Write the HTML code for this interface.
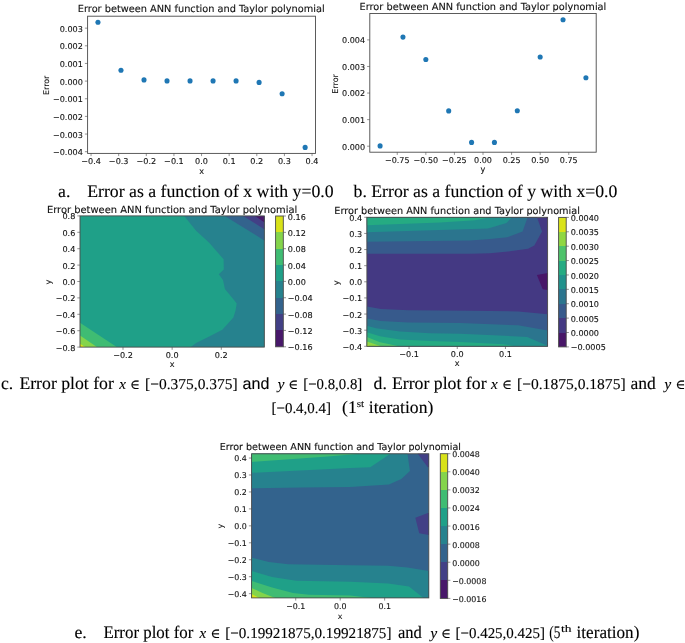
<!DOCTYPE html>
<html><head><meta charset="utf-8"><title>Error plots</title>
<style>
html,body{margin:0;padding:0;background:#fff;}
#page{position:relative;width:685px;height:643px;overflow:hidden;background:#fff;}
svg{position:absolute;left:0;top:0;}
svg text{font-family:'DejaVu Sans', 'Liberation Sans', sans-serif;fill:#111;stroke:#111;stroke-width:0.12px;}
svg text.cap{fill:#000;stroke:#000;stroke-width:0.12px;}
svg{text-rendering:geometricPrecision;}
</style></head><body><div id="page">
<svg width="685" height="643" viewBox="0 0 685 643">
<rect x="87.6" y="16.2" width="227.9" height="137.2" fill="none" stroke="#4a4a4a" stroke-width="0.9"/>
<line x1="91.05" y1="153.4" x2="91.05" y2="156.1" stroke="#4a4a4a" stroke-width="0.6"/>
<text x="91.05" y="164.1" font-size="8.1" text-anchor="middle">−0.4</text>
<line x1="118.68" y1="153.4" x2="118.68" y2="156.1" stroke="#4a4a4a" stroke-width="0.6"/>
<text x="118.68" y="164.1" font-size="8.1" text-anchor="middle">−0.3</text>
<line x1="146.3" y1="153.4" x2="146.3" y2="156.1" stroke="#4a4a4a" stroke-width="0.6"/>
<text x="146.3" y="164.1" font-size="8.1" text-anchor="middle">−0.2</text>
<line x1="173.93" y1="153.4" x2="173.93" y2="156.1" stroke="#4a4a4a" stroke-width="0.6"/>
<text x="173.93" y="164.1" font-size="8.1" text-anchor="middle">−0.1</text>
<line x1="201.55" y1="153.4" x2="201.55" y2="156.1" stroke="#4a4a4a" stroke-width="0.6"/>
<text x="201.55" y="164.1" font-size="8.1" text-anchor="middle">0.0</text>
<line x1="229.17" y1="153.4" x2="229.17" y2="156.1" stroke="#4a4a4a" stroke-width="0.6"/>
<text x="229.17" y="164.1" font-size="8.1" text-anchor="middle">0.1</text>
<line x1="256.8" y1="153.4" x2="256.8" y2="156.1" stroke="#4a4a4a" stroke-width="0.6"/>
<text x="256.8" y="164.1" font-size="8.1" text-anchor="middle">0.2</text>
<line x1="284.42" y1="153.4" x2="284.42" y2="156.1" stroke="#4a4a4a" stroke-width="0.6"/>
<text x="284.42" y="164.1" font-size="8.1" text-anchor="middle">0.3</text>
<line x1="312.05" y1="153.4" x2="312.05" y2="156.1" stroke="#4a4a4a" stroke-width="0.6"/>
<text x="312.05" y="164.1" font-size="8.1" text-anchor="middle">0.4</text>
<line x1="84.9" y1="151.7" x2="87.6" y2="151.7" stroke="#4a4a4a" stroke-width="0.6"/>
<text x="82.9" y="155.15" font-size="8.1" text-anchor="end">−0.004</text>
<line x1="84.9" y1="134.05" x2="87.6" y2="134.05" stroke="#4a4a4a" stroke-width="0.6"/>
<text x="82.9" y="137.5" font-size="8.1" text-anchor="end">−0.003</text>
<line x1="84.9" y1="116.4" x2="87.6" y2="116.4" stroke="#4a4a4a" stroke-width="0.6"/>
<text x="82.9" y="119.85" font-size="8.1" text-anchor="end">−0.002</text>
<line x1="84.9" y1="98.75" x2="87.6" y2="98.75" stroke="#4a4a4a" stroke-width="0.6"/>
<text x="82.9" y="102.2" font-size="8.1" text-anchor="end">−0.001</text>
<line x1="84.9" y1="81.1" x2="87.6" y2="81.1" stroke="#4a4a4a" stroke-width="0.6"/>
<text x="82.9" y="84.55" font-size="8.1" text-anchor="end">0.000</text>
<line x1="84.9" y1="63.45" x2="87.6" y2="63.45" stroke="#4a4a4a" stroke-width="0.6"/>
<text x="82.9" y="66.9" font-size="8.1" text-anchor="end">0.001</text>
<line x1="84.9" y1="45.8" x2="87.6" y2="45.8" stroke="#4a4a4a" stroke-width="0.6"/>
<text x="82.9" y="49.25" font-size="8.1" text-anchor="end">0.002</text>
<line x1="84.9" y1="28.15" x2="87.6" y2="28.15" stroke="#4a4a4a" stroke-width="0.6"/>
<text x="82.9" y="31.6" font-size="8.1" text-anchor="end">0.003</text>
<text x="77.84" y="11.8" font-size="9.77" textLength="246.88" lengthAdjust="spacingAndGlyphs">Error between ANN function and Taylor polynomial</text>
<text x="201.55" y="174" font-size="8.1" text-anchor="middle">x</text>
<text x="48.6" y="85.3" font-size="7.9" text-anchor="middle" transform="rotate(-90 48.6 85.3)">Error</text>
<circle cx="97.96" cy="22.3" r="2.55" fill="#1f77b4"/>
<circle cx="120.98" cy="70.2" r="2.55" fill="#1f77b4"/>
<circle cx="144" cy="79.9" r="2.55" fill="#1f77b4"/>
<circle cx="167.02" cy="80.9" r="2.55" fill="#1f77b4"/>
<circle cx="190.04" cy="80.9" r="2.55" fill="#1f77b4"/>
<circle cx="213.06" cy="80.9" r="2.55" fill="#1f77b4"/>
<circle cx="236.08" cy="80.9" r="2.55" fill="#1f77b4"/>
<circle cx="259.1" cy="82.4" r="2.55" fill="#1f77b4"/>
<circle cx="282.12" cy="93.8" r="2.55" fill="#1f77b4"/>
<circle cx="305.14" cy="147.4" r="2.55" fill="#1f77b4"/>
<rect x="369.8" y="13.5" width="226.4" height="138.7" fill="none" stroke="#4a4a4a" stroke-width="0.9"/>
<line x1="397.24" y1="152.2" x2="397.24" y2="154.9" stroke="#4a4a4a" stroke-width="0.6"/>
<text x="397.24" y="163.47" font-size="8.05" text-anchor="middle">−0.75</text>
<line x1="425.83" y1="152.2" x2="425.83" y2="154.9" stroke="#4a4a4a" stroke-width="0.6"/>
<text x="425.83" y="163.47" font-size="8.05" text-anchor="middle">−0.50</text>
<line x1="454.41" y1="152.2" x2="454.41" y2="154.9" stroke="#4a4a4a" stroke-width="0.6"/>
<text x="454.41" y="163.47" font-size="8.05" text-anchor="middle">−0.25</text>
<line x1="483" y1="152.2" x2="483" y2="154.9" stroke="#4a4a4a" stroke-width="0.6"/>
<text x="483" y="163.47" font-size="8.05" text-anchor="middle">0.00</text>
<line x1="511.59" y1="152.2" x2="511.59" y2="154.9" stroke="#4a4a4a" stroke-width="0.6"/>
<text x="511.59" y="163.47" font-size="8.05" text-anchor="middle">0.25</text>
<line x1="540.17" y1="152.2" x2="540.17" y2="154.9" stroke="#4a4a4a" stroke-width="0.6"/>
<text x="540.17" y="163.47" font-size="8.05" text-anchor="middle">0.50</text>
<line x1="568.76" y1="152.2" x2="568.76" y2="154.9" stroke="#4a4a4a" stroke-width="0.6"/>
<text x="568.76" y="163.47" font-size="8.05" text-anchor="middle">0.75</text>
<line x1="367.1" y1="146.2" x2="369.8" y2="146.2" stroke="#4a4a4a" stroke-width="0.6"/>
<text x="365.1" y="149.63" font-size="8.05" text-anchor="end">0.000</text>
<line x1="367.1" y1="119.62" x2="369.8" y2="119.62" stroke="#4a4a4a" stroke-width="0.6"/>
<text x="365.1" y="123.06" font-size="8.05" text-anchor="end">0.001</text>
<line x1="367.1" y1="93.05" x2="369.8" y2="93.05" stroke="#4a4a4a" stroke-width="0.6"/>
<text x="365.1" y="96.48" font-size="8.05" text-anchor="end">0.002</text>
<line x1="367.1" y1="66.47" x2="369.8" y2="66.47" stroke="#4a4a4a" stroke-width="0.6"/>
<text x="365.1" y="69.91" font-size="8.05" text-anchor="end">0.003</text>
<line x1="367.1" y1="39.9" x2="369.8" y2="39.9" stroke="#4a4a4a" stroke-width="0.6"/>
<text x="365.1" y="43.33" font-size="8.05" text-anchor="end">0.004</text>
<text x="359.54" y="9.5" font-size="9.76" textLength="246.77" lengthAdjust="spacingAndGlyphs">Error between ANN function and Taylor polynomial</text>
<text x="483" y="172.4" font-size="8.05" text-anchor="middle">y</text>
<text x="338.5" y="83.9" font-size="8.05" text-anchor="middle" transform="rotate(-90 338.5 83.9)">Error</text>
<circle cx="380.09" cy="145.9" r="2.55" fill="#1f77b4"/>
<circle cx="402.96" cy="37.1" r="2.55" fill="#1f77b4"/>
<circle cx="425.83" cy="59.5" r="2.55" fill="#1f77b4"/>
<circle cx="448.7" cy="110.9" r="2.55" fill="#1f77b4"/>
<circle cx="471.57" cy="142.4" r="2.55" fill="#1f77b4"/>
<circle cx="494.43" cy="142.4" r="2.55" fill="#1f77b4"/>
<circle cx="517.3" cy="110.7" r="2.55" fill="#1f77b4"/>
<circle cx="540.17" cy="57" r="2.55" fill="#1f77b4"/>
<circle cx="563.04" cy="19.8" r="2.55" fill="#1f77b4"/>
<circle cx="585.91" cy="77.7" r="2.55" fill="#1f77b4"/>
<rect x="80" y="215.9" width="184.3" height="131.2" fill="#1fa088"/>
<polygon points="184.2,215.9 196.1,230.7 209.2,242.7 216.8,251.4 223.6,259.3 223.8,269.5 218.8,274.3 223,280 224.9,289.1 233.2,299 236.7,303.4 235.6,310.2 233.4,317.5 222.3,329.8 209.2,336.4 196.1,342.9 190.7,347.1 264.3,347.1 264.3,215.9" fill="#26828e"/>
<polygon points="224.8,215.9 264.3,240.4 264.3,215.9" fill="#33638d"/>
<polygon points="243.3,215.9 264.3,229.2 264.3,215.9" fill="#424086"/>
<polygon points="255,215.9 264.3,222.2 264.3,215.9" fill="#48186a"/>
<polygon points="80,322.7 116.7,347.1 80,347.1" fill="#3fbc73"/>
<polygon points="80,335.5 96.9,347.1 80,347.1" fill="#84d44b"/>
<polygon points="80,343.7 85.2,347.1 80,347.1" fill="#d8e219"/>
<rect x="80" y="215.9" width="184.3" height="131.2" fill="none" stroke="#4a4a4a" stroke-width="0.9"/>
<line x1="123" y1="347.1" x2="123" y2="349.8" stroke="#4a4a4a" stroke-width="0.6"/>
<text x="123" y="358.2" font-size="8.1" text-anchor="middle">−0.2</text>
<line x1="172.15" y1="347.1" x2="172.15" y2="349.8" stroke="#4a4a4a" stroke-width="0.6"/>
<text x="172.15" y="358.2" font-size="8.1" text-anchor="middle">0.0</text>
<line x1="221.3" y1="347.1" x2="221.3" y2="349.8" stroke="#4a4a4a" stroke-width="0.6"/>
<text x="221.3" y="358.2" font-size="8.1" text-anchor="middle">0.2</text>
<line x1="77.3" y1="347.1" x2="80" y2="347.1" stroke="#4a4a4a" stroke-width="0.6"/>
<text x="75.3" y="350.55" font-size="8.1" text-anchor="end">−0.8</text>
<line x1="77.3" y1="330.7" x2="80" y2="330.7" stroke="#4a4a4a" stroke-width="0.6"/>
<text x="75.3" y="334.15" font-size="8.1" text-anchor="end">−0.6</text>
<line x1="77.3" y1="314.3" x2="80" y2="314.3" stroke="#4a4a4a" stroke-width="0.6"/>
<text x="75.3" y="317.75" font-size="8.1" text-anchor="end">−0.4</text>
<line x1="77.3" y1="297.9" x2="80" y2="297.9" stroke="#4a4a4a" stroke-width="0.6"/>
<text x="75.3" y="301.35" font-size="8.1" text-anchor="end">−0.2</text>
<line x1="77.3" y1="281.5" x2="80" y2="281.5" stroke="#4a4a4a" stroke-width="0.6"/>
<text x="75.3" y="284.95" font-size="8.1" text-anchor="end">0.0</text>
<line x1="77.3" y1="265.1" x2="80" y2="265.1" stroke="#4a4a4a" stroke-width="0.6"/>
<text x="75.3" y="268.55" font-size="8.1" text-anchor="end">0.2</text>
<line x1="77.3" y1="248.7" x2="80" y2="248.7" stroke="#4a4a4a" stroke-width="0.6"/>
<text x="75.3" y="252.15" font-size="8.1" text-anchor="end">0.4</text>
<line x1="77.3" y1="232.3" x2="80" y2="232.3" stroke="#4a4a4a" stroke-width="0.6"/>
<text x="75.3" y="235.75" font-size="8.1" text-anchor="end">0.6</text>
<line x1="77.3" y1="215.9" x2="80" y2="215.9" stroke="#4a4a4a" stroke-width="0.6"/>
<text x="75.3" y="219.35" font-size="8.1" text-anchor="end">0.8</text>
<text x="46.93" y="212.7" font-size="9.9" textLength="250.3" lengthAdjust="spacingAndGlyphs">Error between ANN function and Taylor polynomial</text>
<text x="172.15" y="367" font-size="8.1" text-anchor="middle">x</text>
<text x="50.6" y="282.2" font-size="8.1" text-anchor="middle" transform="rotate(-90 50.6 282.2)">y</text>
<defs><linearGradient id="cb1" x1="0" y1="0" x2="0" y2="1"><stop offset="0.00000" stop-color="#d8e219"/><stop offset="0.12500" stop-color="#d8e219"/><stop offset="0.12500" stop-color="#84d44b"/><stop offset="0.25000" stop-color="#84d44b"/><stop offset="0.25000" stop-color="#3fbc73"/><stop offset="0.37500" stop-color="#3fbc73"/><stop offset="0.37500" stop-color="#1fa088"/><stop offset="0.50000" stop-color="#1fa088"/><stop offset="0.50000" stop-color="#26828e"/><stop offset="0.62500" stop-color="#26828e"/><stop offset="0.62500" stop-color="#33638d"/><stop offset="0.75000" stop-color="#33638d"/><stop offset="0.75000" stop-color="#424086"/><stop offset="0.87500" stop-color="#424086"/><stop offset="0.87500" stop-color="#48186a"/><stop offset="1.00000" stop-color="#48186a"/></linearGradient></defs>
<rect x="275.6" y="216" width="7.7" height="130.8" fill="url(#cb1)"/>
<rect x="275.6" y="216" width="7.7" height="130.8" fill="none" stroke="#4a4a4a" stroke-width="0.9"/>
<line x1="283.3" y1="346.8" x2="286" y2="346.8" stroke="#4a4a4a" stroke-width="0.6"/>
<text x="287.8" y="350.35" font-size="8.1" text-anchor="start">−0.16</text>
<line x1="283.3" y1="330.45" x2="286" y2="330.45" stroke="#4a4a4a" stroke-width="0.6"/>
<text x="287.8" y="334" font-size="8.1" text-anchor="start">−0.12</text>
<line x1="283.3" y1="314.1" x2="286" y2="314.1" stroke="#4a4a4a" stroke-width="0.6"/>
<text x="287.8" y="317.65" font-size="8.1" text-anchor="start">−0.08</text>
<line x1="283.3" y1="297.75" x2="286" y2="297.75" stroke="#4a4a4a" stroke-width="0.6"/>
<text x="287.8" y="301.3" font-size="8.1" text-anchor="start">−0.04</text>
<line x1="283.3" y1="281.4" x2="286" y2="281.4" stroke="#4a4a4a" stroke-width="0.6"/>
<text x="287.8" y="284.95" font-size="8.1" text-anchor="start">0.00</text>
<line x1="283.3" y1="265.05" x2="286" y2="265.05" stroke="#4a4a4a" stroke-width="0.6"/>
<text x="287.8" y="268.6" font-size="8.1" text-anchor="start">0.04</text>
<line x1="283.3" y1="248.7" x2="286" y2="248.7" stroke="#4a4a4a" stroke-width="0.6"/>
<text x="287.8" y="252.25" font-size="8.1" text-anchor="start">0.08</text>
<line x1="283.3" y1="232.35" x2="286" y2="232.35" stroke="#4a4a4a" stroke-width="0.6"/>
<text x="287.8" y="235.9" font-size="8.1" text-anchor="start">0.12</text>
<line x1="283.3" y1="216" x2="286" y2="216" stroke="#4a4a4a" stroke-width="0.6"/>
<text x="287.8" y="219.55" font-size="8.1" text-anchor="start">0.16</text>
<rect x="366.9" y="217.3" width="180.7" height="129" fill="#443983"/>
<polygon points="366.9,217.3 366.9,253.7 470,253.7 490,253.2 508.1,251.4 528,248.7 534.3,245.5 542,231.5 537,217.3" fill="#375a8c"/>
<polygon points="366.9,217.3 366.9,241.8 470,240.5 490,239.1 507.2,237.3 522.6,231.5 527.6,217.3" fill="#2b758e"/>
<polygon points="366.9,217.3 366.9,232.2 440,230 488,228.4 506.5,223.1 511.8,217.3" fill="#21918c"/>
<polygon points="366.9,217.3 366.9,225.3 440,222.5 475,220.2 490,217.3" fill="#25ab82"/>
<polygon points="545.7,217.3 547.6,217.3 547.6,219.5" fill="#481668"/>
<polygon points="536.9,275.1 547.6,273.1 547.6,289.9 542.7,289.2" fill="#481668"/>
<polygon points="366.9,346.3 366.9,306.5 380.9,308.9 408.2,310.2 470,310.8 518.4,311.4 547.6,314.3 547.6,346.3" fill="#375a8c"/>
<polygon points="366.9,346.3 366.9,318.5 380.9,321 408,322.6 460,323.1 518,325.3 547.6,330.4 547.6,346.3" fill="#2b758e"/>
<polygon points="366.9,346.3 366.9,325.8 376,328.2 400,331.4 430,333.3 460,333.7 527.2,336.9 547.6,345.7 547.6,346.3" fill="#21918c"/>
<polygon points="366.9,346.3 366.9,332.2 380,336.2 400,339.4 430,341 460,342 503.8,344.2 515.5,346.3" fill="#25ab82"/>
<polygon points="366.9,346.3 366.9,337 380,342.3 399,346.3" fill="#4ec36b"/>
<polygon points="366.9,346.3 366.9,341.6 381,346.3" fill="#90d743"/>
<polygon points="366.9,346.3 366.9,345 370,346.3" fill="#dae319"/>
<rect x="366.9" y="217.3" width="180.7" height="129" fill="none" stroke="#4a4a4a" stroke-width="0.9"/>
<line x1="409.06" y1="346.3" x2="409.06" y2="349" stroke="#4a4a4a" stroke-width="0.6"/>
<text x="409.06" y="357.3" font-size="8.1" text-anchor="middle">−0.1</text>
<line x1="457.25" y1="346.3" x2="457.25" y2="349" stroke="#4a4a4a" stroke-width="0.6"/>
<text x="457.25" y="357.3" font-size="8.1" text-anchor="middle">0.0</text>
<line x1="505.44" y1="346.3" x2="505.44" y2="349" stroke="#4a4a4a" stroke-width="0.6"/>
<text x="505.44" y="357.3" font-size="8.1" text-anchor="middle">0.1</text>
<line x1="364.2" y1="346.3" x2="366.9" y2="346.3" stroke="#4a4a4a" stroke-width="0.6"/>
<text x="362.2" y="349.75" font-size="8.1" text-anchor="end">−0.4</text>
<line x1="364.2" y1="330.18" x2="366.9" y2="330.18" stroke="#4a4a4a" stroke-width="0.6"/>
<text x="362.2" y="333.63" font-size="8.1" text-anchor="end">−0.3</text>
<line x1="364.2" y1="314.05" x2="366.9" y2="314.05" stroke="#4a4a4a" stroke-width="0.6"/>
<text x="362.2" y="317.5" font-size="8.1" text-anchor="end">−0.2</text>
<line x1="364.2" y1="297.93" x2="366.9" y2="297.93" stroke="#4a4a4a" stroke-width="0.6"/>
<text x="362.2" y="301.38" font-size="8.1" text-anchor="end">−0.1</text>
<line x1="364.2" y1="281.8" x2="366.9" y2="281.8" stroke="#4a4a4a" stroke-width="0.6"/>
<text x="362.2" y="285.25" font-size="8.1" text-anchor="end">0.0</text>
<line x1="364.2" y1="265.68" x2="366.9" y2="265.68" stroke="#4a4a4a" stroke-width="0.6"/>
<text x="362.2" y="269.13" font-size="8.1" text-anchor="end">0.1</text>
<line x1="364.2" y1="249.55" x2="366.9" y2="249.55" stroke="#4a4a4a" stroke-width="0.6"/>
<text x="362.2" y="253" font-size="8.1" text-anchor="end">0.2</text>
<line x1="364.2" y1="233.43" x2="366.9" y2="233.43" stroke="#4a4a4a" stroke-width="0.6"/>
<text x="362.2" y="236.88" font-size="8.1" text-anchor="end">0.3</text>
<line x1="364.2" y1="217.3" x2="366.9" y2="217.3" stroke="#4a4a4a" stroke-width="0.6"/>
<text x="362.2" y="220.75" font-size="8.1" text-anchor="end">0.4</text>
<text x="334.25" y="213.8" font-size="9.72" textLength="245.67" lengthAdjust="spacingAndGlyphs">Error between ANN function and Taylor polynomial</text>
<text x="457.25" y="366.4" font-size="8.1" text-anchor="middle">x</text>
<text x="338.7" y="282.8" font-size="8.1" text-anchor="middle" transform="rotate(-90 338.7 282.8)">y</text>
<defs><linearGradient id="cb2" x1="0" y1="0" x2="0" y2="1"><stop offset="0.00000" stop-color="#dae319"/><stop offset="0.11111" stop-color="#dae319"/><stop offset="0.11111" stop-color="#90d743"/><stop offset="0.22222" stop-color="#90d743"/><stop offset="0.22222" stop-color="#4ec36b"/><stop offset="0.33333" stop-color="#4ec36b"/><stop offset="0.33333" stop-color="#25ab82"/><stop offset="0.44444" stop-color="#25ab82"/><stop offset="0.44444" stop-color="#21918c"/><stop offset="0.55556" stop-color="#21918c"/><stop offset="0.55556" stop-color="#2b758e"/><stop offset="0.66667" stop-color="#2b758e"/><stop offset="0.66667" stop-color="#375a8c"/><stop offset="0.77778" stop-color="#375a8c"/><stop offset="0.77778" stop-color="#443983"/><stop offset="0.88889" stop-color="#443983"/><stop offset="0.88889" stop-color="#481668"/><stop offset="1.00000" stop-color="#481668"/></linearGradient></defs>
<rect x="558.6" y="217.4" width="7.6" height="129.5" fill="url(#cb2)"/>
<rect x="558.6" y="217.4" width="7.6" height="129.5" fill="none" stroke="#4a4a4a" stroke-width="0.9"/>
<line x1="566.2" y1="346.9" x2="568.9" y2="346.9" stroke="#4a4a4a" stroke-width="0.6"/>
<text x="570.7" y="350.45" font-size="8.1" text-anchor="start">−0.0005</text>
<line x1="566.2" y1="332.51" x2="568.9" y2="332.51" stroke="#4a4a4a" stroke-width="0.6"/>
<text x="570.7" y="336.06" font-size="8.1" text-anchor="start">0.0000</text>
<line x1="566.2" y1="318.12" x2="568.9" y2="318.12" stroke="#4a4a4a" stroke-width="0.6"/>
<text x="570.7" y="321.67" font-size="8.1" text-anchor="start">0.0005</text>
<line x1="566.2" y1="303.73" x2="568.9" y2="303.73" stroke="#4a4a4a" stroke-width="0.6"/>
<text x="570.7" y="307.29" font-size="8.1" text-anchor="start">0.0010</text>
<line x1="566.2" y1="289.34" x2="568.9" y2="289.34" stroke="#4a4a4a" stroke-width="0.6"/>
<text x="570.7" y="292.9" font-size="8.1" text-anchor="start">0.0015</text>
<line x1="566.2" y1="274.96" x2="568.9" y2="274.96" stroke="#4a4a4a" stroke-width="0.6"/>
<text x="570.7" y="278.51" font-size="8.1" text-anchor="start">0.0020</text>
<line x1="566.2" y1="260.57" x2="568.9" y2="260.57" stroke="#4a4a4a" stroke-width="0.6"/>
<text x="570.7" y="264.12" font-size="8.1" text-anchor="start">0.0025</text>
<line x1="566.2" y1="246.18" x2="568.9" y2="246.18" stroke="#4a4a4a" stroke-width="0.6"/>
<text x="570.7" y="249.73" font-size="8.1" text-anchor="start">0.0030</text>
<line x1="566.2" y1="231.79" x2="568.9" y2="231.79" stroke="#4a4a4a" stroke-width="0.6"/>
<text x="570.7" y="235.34" font-size="8.1" text-anchor="start">0.0035</text>
<line x1="566.2" y1="217.4" x2="568.9" y2="217.4" stroke="#4a4a4a" stroke-width="0.6"/>
<text x="570.7" y="220.95" font-size="8.1" text-anchor="start">0.0040</text>
<rect x="251.6" y="453.8" width="177.2" height="144.1" fill="#33638d"/>
<polygon points="251.6,453.8 251.6,488.2 300,487.6 350,487 388.9,484.6 401.3,478.9 409.9,471.1 407.5,453.8" fill="#26828e"/>
<polygon points="251.6,453.8 251.6,472.8 300,470.5 350,468 370.2,467.2 390.4,453.8" fill="#1fa088"/>
<polygon points="251.6,453.8 251.6,461.9 300,458.5 327.6,456.6 360,453.8" fill="#3fbc73"/>
<polygon points="417.7,453.8 427.8,467.2 428.8,467 428.8,453.8" fill="#424086"/>
<polygon points="415.3,517.8 427.8,513.1 428.8,513 428.8,534.9 419.2,533.3" fill="#424086"/>
<polygon points="251.6,597.9 251.6,557.7 268.9,562.1 288.2,564.2 350,565.3 388.2,565.8 407.4,567.4 428.8,571.1 428.8,597.9" fill="#26828e"/>
<polygon points="251.6,597.9 251.6,571.1 272.1,577 296.2,580.7 350,581.8 388.2,583.4 409,586.6 423.5,597.9" fill="#1fa088"/>
<polygon points="251.6,597.9 251.6,581 272.1,587.4 293,593.1 309,594.7 350,595.5 372.1,597.9" fill="#3fbc73"/>
<polygon points="251.6,597.9 251.6,587.9 262.5,593.1 275.3,597.9" fill="#84d44b"/>
<polygon points="251.6,597.9 251.6,593.9 259.3,597.9" fill="#d8e219"/>
<rect x="251.6" y="453.8" width="177.2" height="144.1" fill="none" stroke="#4a4a4a" stroke-width="0.9"/>
<line x1="295.73" y1="597.9" x2="295.73" y2="600.6" stroke="#4a4a4a" stroke-width="0.6"/>
<text x="295.73" y="608.96" font-size="7.9" text-anchor="middle">−0.1</text>
<line x1="340.2" y1="597.9" x2="340.2" y2="600.6" stroke="#4a4a4a" stroke-width="0.6"/>
<text x="340.2" y="608.96" font-size="7.9" text-anchor="middle">0.0</text>
<line x1="384.67" y1="597.9" x2="384.67" y2="600.6" stroke="#4a4a4a" stroke-width="0.6"/>
<text x="384.67" y="608.96" font-size="7.9" text-anchor="middle">0.1</text>
<line x1="248.9" y1="593.66" x2="251.6" y2="593.66" stroke="#4a4a4a" stroke-width="0.6"/>
<text x="246.9" y="597.04" font-size="7.9" text-anchor="end">−0.4</text>
<line x1="248.9" y1="576.71" x2="251.6" y2="576.71" stroke="#4a4a4a" stroke-width="0.6"/>
<text x="246.9" y="580.09" font-size="7.9" text-anchor="end">−0.3</text>
<line x1="248.9" y1="559.76" x2="251.6" y2="559.76" stroke="#4a4a4a" stroke-width="0.6"/>
<text x="246.9" y="563.14" font-size="7.9" text-anchor="end">−0.2</text>
<line x1="248.9" y1="542.8" x2="251.6" y2="542.8" stroke="#4a4a4a" stroke-width="0.6"/>
<text x="246.9" y="546.18" font-size="7.9" text-anchor="end">−0.1</text>
<line x1="248.9" y1="525.85" x2="251.6" y2="525.85" stroke="#4a4a4a" stroke-width="0.6"/>
<text x="246.9" y="529.23" font-size="7.9" text-anchor="end">0.0</text>
<line x1="248.9" y1="508.9" x2="251.6" y2="508.9" stroke="#4a4a4a" stroke-width="0.6"/>
<text x="246.9" y="512.28" font-size="7.9" text-anchor="end">0.1</text>
<line x1="248.9" y1="491.94" x2="251.6" y2="491.94" stroke="#4a4a4a" stroke-width="0.6"/>
<text x="246.9" y="495.32" font-size="7.9" text-anchor="end">0.2</text>
<line x1="248.9" y1="474.99" x2="251.6" y2="474.99" stroke="#4a4a4a" stroke-width="0.6"/>
<text x="246.9" y="478.37" font-size="7.9" text-anchor="end">0.3</text>
<line x1="248.9" y1="458.04" x2="251.6" y2="458.04" stroke="#4a4a4a" stroke-width="0.6"/>
<text x="246.9" y="461.42" font-size="7.9" text-anchor="end">0.4</text>
<text x="219.76" y="449.8" font-size="9.55" textLength="241.23" lengthAdjust="spacingAndGlyphs">Error between ANN function and Taylor polynomial</text>
<text x="340.2" y="619" font-size="7.9" text-anchor="middle">x</text>
<text x="223.4" y="526.2" font-size="7.9" text-anchor="middle" transform="rotate(-90 223.4 526.2)">y</text>
<defs><linearGradient id="cb3" x1="0" y1="0" x2="0" y2="1"><stop offset="0.00000" stop-color="#d8e219"/><stop offset="0.12500" stop-color="#d8e219"/><stop offset="0.12500" stop-color="#84d44b"/><stop offset="0.25000" stop-color="#84d44b"/><stop offset="0.25000" stop-color="#3fbc73"/><stop offset="0.37500" stop-color="#3fbc73"/><stop offset="0.37500" stop-color="#1fa088"/><stop offset="0.50000" stop-color="#1fa088"/><stop offset="0.50000" stop-color="#26828e"/><stop offset="0.62500" stop-color="#26828e"/><stop offset="0.62500" stop-color="#33638d"/><stop offset="0.75000" stop-color="#33638d"/><stop offset="0.75000" stop-color="#424086"/><stop offset="0.87500" stop-color="#424086"/><stop offset="0.87500" stop-color="#48186a"/><stop offset="1.00000" stop-color="#48186a"/></linearGradient></defs>
<rect x="440.3" y="453.7" width="7.4" height="144.7" fill="url(#cb3)"/>
<rect x="440.3" y="453.7" width="7.4" height="144.7" fill="none" stroke="#4a4a4a" stroke-width="0.9"/>
<line x1="447.7" y1="598.4" x2="450.4" y2="598.4" stroke="#4a4a4a" stroke-width="0.6"/>
<text x="452.2" y="601.88" font-size="7.9" text-anchor="start">−0.0016</text>
<line x1="447.7" y1="580.31" x2="450.4" y2="580.31" stroke="#4a4a4a" stroke-width="0.6"/>
<text x="452.2" y="583.79" font-size="7.9" text-anchor="start">−0.0008</text>
<line x1="447.7" y1="562.23" x2="450.4" y2="562.23" stroke="#4a4a4a" stroke-width="0.6"/>
<text x="452.2" y="565.7" font-size="7.9" text-anchor="start">0.0000</text>
<line x1="447.7" y1="544.14" x2="450.4" y2="544.14" stroke="#4a4a4a" stroke-width="0.6"/>
<text x="452.2" y="547.62" font-size="7.9" text-anchor="start">0.0008</text>
<line x1="447.7" y1="526.05" x2="450.4" y2="526.05" stroke="#4a4a4a" stroke-width="0.6"/>
<text x="452.2" y="529.53" font-size="7.9" text-anchor="start">0.0016</text>
<line x1="447.7" y1="507.96" x2="450.4" y2="507.96" stroke="#4a4a4a" stroke-width="0.6"/>
<text x="452.2" y="511.44" font-size="7.9" text-anchor="start">0.0024</text>
<line x1="447.7" y1="489.88" x2="450.4" y2="489.88" stroke="#4a4a4a" stroke-width="0.6"/>
<text x="452.2" y="493.35" font-size="7.9" text-anchor="start">0.0032</text>
<line x1="447.7" y1="471.79" x2="450.4" y2="471.79" stroke="#4a4a4a" stroke-width="0.6"/>
<text x="452.2" y="475.27" font-size="7.9" text-anchor="start">0.0040</text>
<line x1="447.7" y1="453.7" x2="450.4" y2="453.7" stroke="#4a4a4a" stroke-width="0.6"/>
<text x="452.2" y="457.18" font-size="7.9" text-anchor="start">0.0048</text>
<text class="cap" x="58.1" y="196.8" font-size="17.7" style="font-family:'Liberation Serif','Times New Roman',serif">a.</text>
<text class="cap" x="87.2" y="196.8" font-size="17.7" textLength="246.4" lengthAdjust="spacingAndGlyphs" style="font-family:'Liberation Serif','Times New Roman',serif">Error as a function of x with y=0.0</text>
<text class="cap" x="353.6" y="196.8" font-size="17.7" textLength="263.8" lengthAdjust="spacingAndGlyphs" style="font-family:'Liberation Serif','Times New Roman',serif">b. Error as a function of y with x=0.0</text>
<text class="cap" x="0.9" y="388.7" font-size="17.7" style="font-family:'Liberation Serif','Times New Roman',serif">c.</text>
<text class="cap" x="19.4" y="388.7" font-size="17.7" textLength="94.5" lengthAdjust="spacingAndGlyphs" style="font-family:'Liberation Serif','Times New Roman',serif">Error plot for</text>
<text class="cap" x="119.28" y="388.7" font-size="15" font-style="italic" style="font-family:'Liberation Serif','Times New Roman',serif">x</text>
<text x="129.98" y="388.7" font-size="13.4" style="font-family:'DejaVu Serif',serif;fill:#000">&#8712;</text>
<text class="cap" x="145.1" y="388.7" font-size="15" textLength="92.5" lengthAdjust="spacingAndGlyphs" style="font-family:'Liberation Serif','Times New Roman',serif">[−0.375,0.375]</text>
<text class="cap" x="242.6" y="388.7" font-size="16.3" textLength="26.8" lengthAdjust="spacingAndGlyphs" style="font-family:'Liberation Sans',sans-serif">and</text>
<text class="cap" x="277.65" y="388.7" font-size="15" font-style="italic" style="font-family:'Liberation Serif','Times New Roman',serif">y</text>
<text x="288.18" y="388.7" font-size="13.4" style="font-family:'DejaVu Serif',serif;fill:#000">&#8712;</text>
<text class="cap" x="303.3" y="388.7" font-size="15" textLength="59" lengthAdjust="spacingAndGlyphs" style="font-family:'Liberation Serif','Times New Roman',serif">[−0.8,0.8]</text>
<text class="cap" x="373.6" y="388.7" font-size="17.7" style="font-family:'Liberation Serif','Times New Roman',serif">d.</text>
<text class="cap" x="391.9" y="388.7" font-size="17.7" textLength="94.7" lengthAdjust="spacingAndGlyphs" style="font-family:'Liberation Serif','Times New Roman',serif">Error plot for</text>
<text class="cap" x="490.88" y="388.7" font-size="15" font-style="italic" style="font-family:'Liberation Serif','Times New Roman',serif">x</text>
<text x="501.88" y="388.7" font-size="13.4" style="font-family:'DejaVu Serif',serif;fill:#000">&#8712;</text>
<text class="cap" x="517" y="388.7" font-size="15" textLength="108.6" lengthAdjust="spacingAndGlyphs" style="font-family:'Liberation Serif','Times New Roman',serif">[−0.1875,0.1875]</text>
<text class="cap" x="630.5" y="388.7" font-size="17.7" textLength="25.3" lengthAdjust="spacingAndGlyphs" style="font-family:'Liberation Serif','Times New Roman',serif">and</text>
<text class="cap" x="664.45" y="388.7" font-size="15" font-style="italic" style="font-family:'Liberation Serif','Times New Roman',serif">y</text>
<text x="675.58" y="388.7" font-size="13.4" style="font-family:'DejaVu Serif',serif;fill:#000">&#8712;</text>
<text class="cap" x="271.5" y="412.7" font-size="15" textLength="59.5" lengthAdjust="spacingAndGlyphs" style="font-family:'Liberation Serif','Times New Roman',serif">[−0.4,0.4]</text>
<text class="cap" x="342" y="412.7" font-size="17.7" style="font-family:'Liberation Serif','Times New Roman',serif">(1</text>
<text class="cap" x="356.8" y="407.1" font-size="10.2" textLength="7.4" lengthAdjust="spacingAndGlyphs" style="font-family:'Liberation Serif','Times New Roman',serif">st</text>
<text class="cap" x="368.8" y="412.7" font-size="17.7" textLength="64.5" lengthAdjust="spacingAndGlyphs" style="font-family:'Liberation Serif','Times New Roman',serif">iteration)</text>
<text class="cap" x="74.5" y="637.7" font-size="17.7" style="font-family:'Liberation Serif','Times New Roman',serif">e.</text>
<text class="cap" x="103.4" y="637.7" font-size="17.7" textLength="90" lengthAdjust="spacingAndGlyphs" style="font-family:'Liberation Serif','Times New Roman',serif">Error plot for</text>
<text class="cap" x="199.48" y="637.7" font-size="15" font-style="italic" style="font-family:'Liberation Serif','Times New Roman',serif">x</text>
<text x="210.38" y="637.7" font-size="13.4" style="font-family:'DejaVu Serif',serif;fill:#000">&#8712;</text>
<text class="cap" x="225.2" y="637.7" font-size="15" textLength="166.3" lengthAdjust="spacingAndGlyphs" style="font-family:'Liberation Serif','Times New Roman',serif">[−0.19921875,0.19921875]</text>
<text class="cap" x="397.9" y="637.7" font-size="17.7" textLength="23.9" lengthAdjust="spacingAndGlyphs" style="font-family:'Liberation Serif','Times New Roman',serif">and</text>
<text class="cap" x="430.55" y="637.7" font-size="15" font-style="italic" style="font-family:'Liberation Serif','Times New Roman',serif">y</text>
<text x="440.98" y="637.7" font-size="13.4" style="font-family:'DejaVu Serif',serif;fill:#000">&#8712;</text>
<text class="cap" x="455.5" y="637.7" font-size="15" textLength="89.5" lengthAdjust="spacingAndGlyphs" style="font-family:'Liberation Serif','Times New Roman',serif">[−0.425,0.425]</text>
<text class="cap" x="549.3" y="637.7" font-size="17.7" textLength="11.1" lengthAdjust="spacingAndGlyphs" style="font-family:'Liberation Serif','Times New Roman',serif">(5</text>
<text class="cap" x="560.9" y="632.1" font-size="10.2" textLength="10.5" lengthAdjust="spacingAndGlyphs" style="font-family:'Liberation Serif','Times New Roman',serif">th</text>
<text class="cap" x="576.6" y="637.7" font-size="17.7" textLength="62.8" lengthAdjust="spacingAndGlyphs" style="font-family:'Liberation Serif','Times New Roman',serif">iteration)</text>
</svg>
</div></body></html>
